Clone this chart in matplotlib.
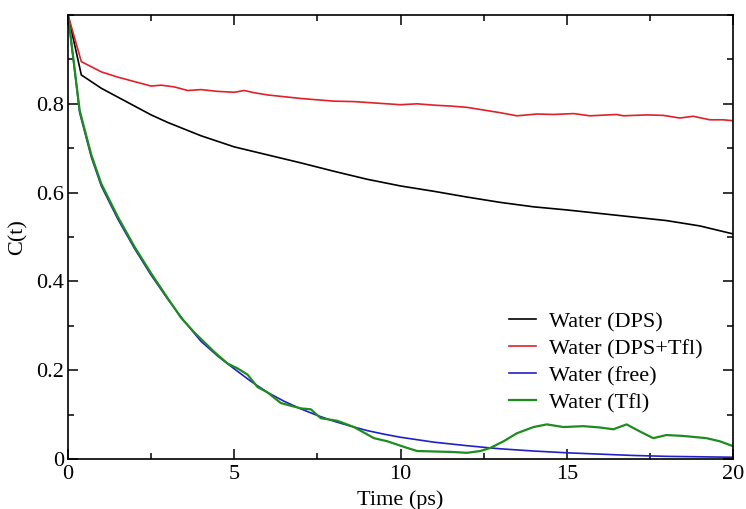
import matplotlib
matplotlib.use("Agg")
import matplotlib.pyplot as plt
from matplotlib.ticker import MultipleLocator

plt.rcParams['font.family'] = ['Liberation Serif', 'DejaVu Serif']

# Water (DPS)
t_dps = [0, 0.4, 1, 1.5, 2, 2.5, 3, 4, 5, 6, 7, 8, 9, 10, 11, 12, 13, 14, 15, 16, 17, 18, 19, 20]
c_dps = [1.0, 0.865, 0.835, 0.815, 0.795, 0.775, 0.758, 0.728, 0.703, 0.685, 0.667, 0.648,
         0.630, 0.615, 0.603, 0.590, 0.578, 0.568, 0.561, 0.553, 0.545, 0.537, 0.525, 0.507]

# Water (DPS+Tfl)
t_dps_tfl = [0, 0.4, 1, 1.5, 2, 2.5, 2.8, 3.2, 3.6, 4, 4.5, 5, 5.3, 5.6, 6, 7, 8, 8.6, 9, 10,
             10.5, 11, 11.5, 12, 12.5, 13, 13.5, 14.1, 14.6, 15.2, 15.7, 16.5, 16.7, 17.4,
             17.9, 18.4, 18.8, 19.3, 19.7, 20]
c_dps_tfl = [1.0, 0.895, 0.872, 0.86, 0.85, 0.84, 0.842, 0.838, 0.83, 0.832, 0.828, 0.826,
             0.83, 0.825, 0.82, 0.812, 0.806, 0.805, 0.803, 0.798, 0.80, 0.797, 0.795, 0.792,
             0.786, 0.78, 0.773, 0.777, 0.776, 0.778, 0.773, 0.776, 0.773, 0.775, 0.774,
             0.768, 0.772, 0.764, 0.764, 0.762]

# Water (free)
t_free = [0, 0.35, 0.7, 1, 1.5, 2, 2.5, 3, 3.5, 4, 4.5, 5, 5.5, 6, 6.5, 7, 7.5, 8, 8.5, 9,
          9.5, 10, 11, 12, 12.7, 13, 14, 15, 16, 17, 18, 19, 20]
c_free = [1.0, 0.78, 0.68, 0.615, 0.54, 0.474, 0.414, 0.36, 0.31, 0.265, 0.232, 0.203, 0.175,
          0.15, 0.13, 0.113, 0.098, 0.085, 0.074, 0.064, 0.056, 0.049, 0.038, 0.030, 0.025,
          0.023, 0.018, 0.014, 0.011, 0.008, 0.006, 0.005, 0.004]

# Water (Tfl)
t_tfl = [0, 0.35, 0.7, 1, 1.5, 2, 2.5, 3, 3.4, 3.8, 4.4, 4.8, 5.1, 5.4, 5.7, 6, 6.4, 7.0,
         7.3, 7.6, 8.1, 8.6, 9.2, 9.6, 10.2, 10.5, 11, 11.5, 12, 12.4, 12.7, 13.1, 13.5, 14,
         14.4, 14.9, 15.5, 16, 16.4, 16.8, 17.2, 17.6, 18, 18.5, 19.2, 19.6, 20]
c_tfl = [1.0, 0.785, 0.685, 0.62, 0.545, 0.478, 0.418, 0.362, 0.318, 0.285, 0.241, 0.215,
         0.204, 0.19, 0.162, 0.15, 0.126, 0.114, 0.112, 0.092, 0.086, 0.072, 0.047, 0.04,
         0.025, 0.018, 0.017, 0.016, 0.014, 0.018, 0.025, 0.04, 0.058, 0.072, 0.078, 0.072,
         0.074, 0.071, 0.067, 0.078, 0.062, 0.047, 0.054, 0.052, 0.047, 0.04, 0.029]

x_ticks = [0, 5, 10, 15, 20]
y_ticks = [0, 0.2, 0.4, 0.6, 0.8]
y_tick_labels = ["0", "0.2", "0.4", "0.6", "0.8"]

fig = plt.figure(figsize=(7.46, 5.09), dpi=100)
ax = fig.add_axes([0.0912, 0.0982, 0.8914, 0.8723])

ax.plot(t_dps, c_dps, color='black', lw=1.2, label='Water (DPS)')
ax.plot(t_dps_tfl, c_dps_tfl, color='#e0202a', lw=1.2, label='Water (DPS+Tfl)')
ax.plot(t_free, c_free, color='#2020c8', lw=1.2, label='Water (free)')
ax.plot(t_tfl, c_tfl, color='#1e8c1e', lw=1.6, label='Water (Tfl)')

ax.set_xlim(0, 20)
ax.set_ylim(0, 1.0)
ax.set_xticks(x_ticks)
ax.set_xticklabels([str(v) for v in x_ticks])
ax.set_yticks(y_ticks)
ax.set_yticklabels(y_tick_labels)
ax.xaxis.set_minor_locator(MultipleLocator(2.5))
ax.yaxis.set_minor_locator(MultipleLocator(0.1))
ax.tick_params(which='both', direction='in', top=True, right=True, width=1.1,
               labelsize=16, pad=3)
ax.tick_params(axis='x', pad=4.5)
ax.tick_params(which='major', length=7)
ax.tick_params(which='minor', length=4.5)
for s in ax.spines.values():
    s.set_linewidth(1.2)

ax.set_xlabel('Time (ps)', fontsize=16, labelpad=4)
ax.set_ylabel('C(t)', fontsize=16, labelpad=6)

ax.legend(loc='lower right', bbox_to_anchor=(0.985, 0.058), frameon=False, fontsize=16,
          handlelength=1.2, handletextpad=0.6, labelspacing=0.29)

fig.savefig('out.png', dpi=100)
